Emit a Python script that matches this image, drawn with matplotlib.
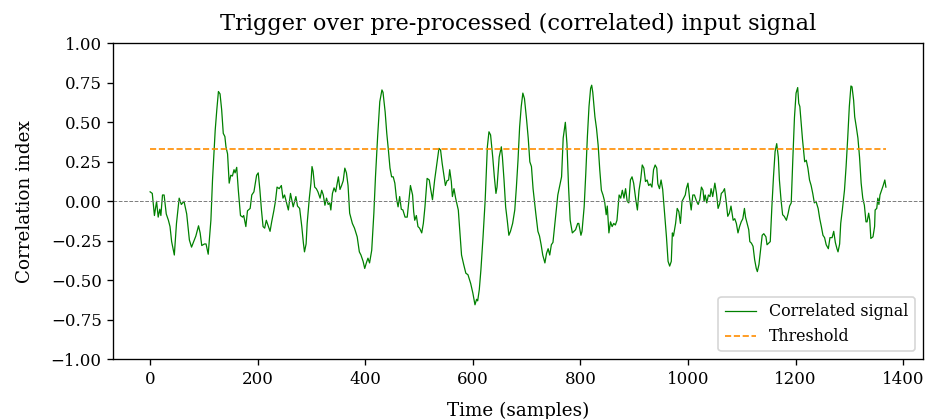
import matplotlib
matplotlib.use("Agg")
import matplotlib.pyplot as plt

plt.rcParams['font.family'] = ['DejaVu Serif']

sample_idx = [
    0, 4, 8, 12, 15, 18, 20, 23, 26, 30, 34, 37, 40, 45, 49, 54, 58, 63, 68, 73,
    77, 81, 85, 90, 93, 96, 101, 104, 108, 113, 116, 121, 124, 127, 130, 133, 136, 139, 141, 144,
    147, 150, 153, 156, 158, 161, 164, 168, 172, 174, 178, 181, 186, 189, 193, 198, 201, 204, 207, 210,
    213, 216, 219, 223, 226, 230, 233, 236, 240, 244, 247, 250, 253, 257, 261, 266, 271, 274, 278, 282,
    285, 287, 290, 292, 296, 299, 301, 303, 306, 309, 312, 316, 319, 322, 325, 328, 331, 334, 336, 339,
    342, 345, 350, 353, 356, 359, 362, 365, 368, 371, 376, 380, 385, 389, 392, 396, 399, 402, 405, 408,
    412, 416, 419, 423, 427, 431, 433, 437, 440, 443, 446, 449, 452, 455, 458, 461, 464, 467, 470, 474,
    478, 480, 484, 488, 490, 492, 495, 498, 501, 505, 508, 511, 515, 519, 521, 525, 529, 534, 537, 540,
    543, 547, 549, 552, 555, 557, 560, 562, 565, 568, 573, 576, 579, 583, 587, 591, 596, 600, 604, 607,
    609, 612, 615, 619, 623, 627, 630, 633, 637, 640, 643, 645, 649, 653, 655, 658, 661, 664, 667, 670,
    674, 678, 681, 684, 687, 690, 693, 696, 700, 703, 706, 709, 712, 717, 721, 724, 727, 730, 734, 737,
    740, 743, 746, 749, 752, 755, 758, 761, 765, 768, 772, 775, 778, 781, 785, 788, 791, 795, 797, 801,
    803, 807, 810, 813, 816, 819, 821, 823, 827, 830, 833, 836, 839, 842, 845, 848, 850, 853, 856, 859,
    862, 865, 868, 872, 875, 878, 881, 884, 887, 890, 893, 896, 899, 903, 906, 909, 912, 915, 918, 921,
    924, 927, 930, 933, 936, 939, 942, 944, 947, 950, 953, 957, 960, 963, 966, 969, 971, 973, 977, 980,
    983, 986, 989, 992, 995, 997, 1000, 1003, 1006, 1009, 1012, 1016, 1019, 1022, 1025, 1028, 1030, 1032, 1035, 1038,
    1041, 1043, 1046, 1050, 1053, 1056, 1059, 1062, 1065, 1068, 1071, 1074, 1077, 1080, 1084, 1087, 1090, 1093, 1096, 1099,
    1102, 1105, 1107, 1110, 1113, 1115, 1118, 1121, 1124, 1127, 1129, 1132, 1135, 1138, 1141, 1145, 1147, 1150, 1153, 1156,
    1159, 1162, 1165, 1168, 1170, 1173, 1176, 1179, 1183, 1186, 1189, 1192, 1195, 1198, 1201, 1204, 1206, 1208, 1211, 1213,
    1217, 1220, 1223, 1226, 1229, 1232, 1235, 1238, 1242, 1245, 1248, 1251, 1254, 1257, 1261, 1264, 1268, 1271, 1274, 1277,
    1279, 1282, 1284, 1287, 1291, 1294, 1297, 1300, 1303, 1305, 1308, 1310, 1313, 1316, 1319, 1322, 1325, 1328, 1331, 1333,
    1336, 1338, 1340, 1344, 1347, 1348, 1351, 1353, 1355, 1357, 1360, 1363, 1366, 1368,
]

corr_values = [
    0.06, 0.05, -0.09, 0.0, -0.10, -0.05, -0.09, 0.04, 0.04, -0.08, -0.12, -0.16, -0.255, -0.34, -0.14, 0.02, -0.02, 0.0, -0.08, -0.245,
    -0.29, -0.255, -0.22, -0.155, -0.2, -0.28, -0.27, -0.27, -0.335, -0.12, 0.135, 0.45, 0.58, 0.695, 0.68, 0.58, 0.43, 0.41, 0.345, 0.30,
    0.115, 0.165, 0.16, 0.20, 0.18, 0.215, 0.07, -0.09, -0.10, -0.09, -0.16, -0.06, -0.045, 0.04, 0.06, 0.165, 0.18, 0.075, -0.055, -0.16,
    -0.17, -0.12, -0.15, -0.19, -0.13, -0.06, 0.0, 0.09, 0.08, 0.10, 0.02, 0.04, 0.0, -0.055, 0.05, -0.035, 0.03, -0.03, -0.045, -0.16,
    -0.265, -0.32, -0.27, -0.14, 0.02, 0.115, 0.22, 0.19, 0.09, 0.08, 0.06, 0.02, 0.07, 0.04, -0.025, 0.02, -0.02, -0.01, -0.055, 0.05,
    0.085, 0.06, 0.155, 0.075, 0.10, 0.13, 0.21, 0.18, 0.10, -0.075, -0.14, -0.17, -0.225, -0.32, -0.34, -0.38, -0.425, -0.39, -0.36, -0.39,
    -0.31, -0.075, 0.155, 0.41, 0.63, 0.705, 0.69, 0.565, 0.43, 0.325, 0.21, 0.155, 0.155, 0.115, 0.02, -0.035, 0.03, -0.05, -0.055, -0.10,
    -0.10, -0.035, 0.10, 0.04, -0.065, -0.12, -0.09, -0.16, -0.17, -0.20, -0.14, -0.035, 0.145, 0.135, 0.09, 0.01, 0.135, 0.26, 0.335, 0.325,
    0.24, 0.145, 0.10, 0.13, 0.135, 0.20, 0.125, 0.03, 0.08, 0.02, -0.055, -0.20, -0.34, -0.40, -0.455, -0.465, -0.52, -0.58, -0.655, -0.62,
    -0.63, -0.56, -0.435, -0.225, 0.01, 0.345, 0.44, 0.42, 0.28, 0.155, 0.05, 0.09, 0.28, 0.345, 0.28, 0.135, -0.035, -0.12, -0.215, -0.19,
    -0.14, -0.055, 0.09, 0.26, 0.47, 0.60, 0.685, 0.65, 0.515, 0.40, 0.25, 0.22, 0.08, -0.075, -0.19, -0.22, -0.275, -0.34, -0.39, -0.33,
    -0.30, -0.34, -0.275, -0.26, -0.16, -0.055, 0.04, 0.09, 0.155, 0.40, 0.50, 0.365, 0.09, -0.12, -0.20, -0.19, -0.18, -0.14, -0.14, -0.215,
    -0.19, -0.035, 0.175, 0.41, 0.60, 0.715, 0.735, 0.69, 0.535, 0.46, 0.355, 0.20, 0.07, 0.04, 0.0, -0.085, -0.03, -0.20, -0.13, -0.16,
    -0.14, -0.15, -0.12, 0.04, 0.02, 0.07, 0.02, 0.08, 0.0, -0.01, 0.135, 0.155, 0.115, 0.01, -0.055, 0.07, 0.135, 0.23, 0.21, 0.125,
    0.135, 0.10, 0.11, 0.09, 0.20, 0.23, 0.21, 0.11, 0.08, 0.135, 0.075, -0.10, -0.225, -0.38, -0.41, -0.38, -0.20, -0.22, -0.14, -0.045,
    -0.065, -0.14, 0.0, 0.02, 0.04, 0.08, 0.115, 0.02, -0.055, 0.04, 0.04, 0.0, -0.02, 0.01, 0.09, 0.07, 0.0, 0.04, -0.01, 0.04,
    0.03, 0.08, 0.03, 0.115, 0.05, -0.045, -0.015, 0.05, 0.06, 0.08, 0.0, -0.095, -0.075, -0.03, -0.12, -0.11, -0.14, -0.20, -0.16, -0.13,
    -0.11, -0.045, -0.10, -0.14, -0.18, -0.255, -0.265, -0.285, -0.37, -0.425, -0.445, -0.40, -0.31, -0.215, -0.205, -0.225, -0.275, -0.265, -0.255, -0.035,
    0.155, 0.315, 0.365, 0.28, 0.135, 0.01, -0.085, -0.095, -0.12, -0.08, -0.03, -0.01, 0.27, 0.53, 0.685, 0.72, 0.62, 0.60, 0.47, 0.39,
    0.25, 0.26, 0.21, 0.135, 0.10, 0.05, -0.01, 0.0, -0.045, -0.11, -0.16, -0.215, -0.23, -0.275, -0.30, -0.23, -0.23, -0.19, -0.26, -0.30,
    -0.32, -0.27, -0.14, -0.055, 0.07, 0.22, 0.40, 0.60, 0.73, 0.725, 0.64, 0.535, 0.47, 0.40, 0.28, 0.115, 0.02, -0.025, -0.13, -0.13,
    -0.075, -0.12, -0.235, -0.225, -0.16, -0.055, -0.045, 0.02, -0.02, 0.04, 0.07, 0.10, 0.135, 0.09,
]

threshold = 0.33

title = "Trigger over pre-processed (correlated) input signal"
xlabel = "Time (samples)"
ylabel = "Correlation index"
legend_labels = ["Correlated signal", "Threshold"]

fig = plt.figure(figsize=(932 / 120, 419 / 120), dpi=120)
ax = fig.add_axes([0.1216, 0.1425, 0.990 - 0.1216, 0.8966 - 0.1425])

ax.plot(sample_idx, corr_values, color="green", linewidth=0.75, label=legend_labels[0])
ax.plot([sample_idx[0], sample_idx[-1]], [threshold, threshold], color="darkorange",
        linestyle="--", linewidth=1.0, label=legend_labels[1])
ax.axhline(0, color="grey", linestyle="--", linewidth=0.6)

ax.set_ylim(-1, 1)
ax.set_xticks([0, 200, 400, 600, 800, 1000, 1200, 1400])
ax.set_title(title, fontsize=13.5, pad=8)
ax.set_xlabel(xlabel, fontsize=11, labelpad=8)
ax.set_ylabel(ylabel, fontsize=11, labelpad=10)
ax.tick_params(labelsize=10)
ax.legend(loc="lower right", fontsize=9.5)

fig.savefig("out.png", dpi=120)
